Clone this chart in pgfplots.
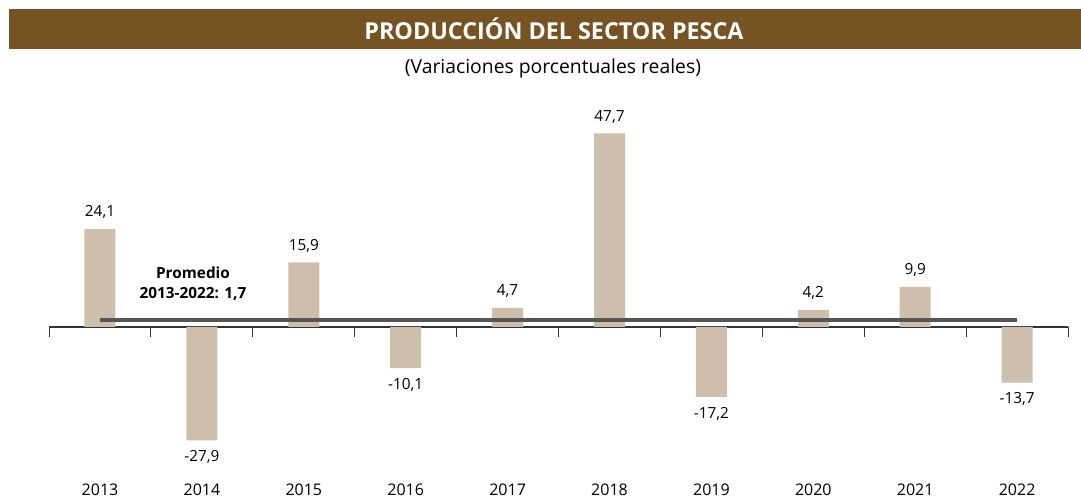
\documentclass[border=0pt]{standalone}
\usepackage{fontspec}
\setmainfont{Open Sans}
\usepackage{pgfplots}
\pgfplotsset{compat=1.18}
\definecolor{titlebar}{HTML}{775222}
\definecolor{barfill}{HTML}{CDBFAB}
\definecolor{avgline}{HTML}{555555}
\newlength{\px}
\setlength{\px}{0.75pt}
\begin{document}
\begin{tikzpicture}
\useasboundingbox (-100\px,327\px) rectangle (981\px,-171\px);
\fill[titlebar] (-91\px,318\px) rectangle (981\px,278\px);
\node[text=white,font=\fontsize{17.5}{20}\selectfont\bfseries] at (454\px,298\px) {PRODUCCIÓN DEL SECTOR PESCA};
\node[font=\fontsize{14.5}{17}\selectfont] at (453\px,259\px) {(Variaciones porcentuales reales)};
\begin{axis}[
  at={(0,0)}, anchor=origin,
  x=101.9\px, y=4.06\px,
  xmin=-0.5, xmax=9.5, ymin=-38, ymax=50,
  clip=false,
  axis x line=bottom, axis y line=none,
  x axis line style={draw=none},
  xtick={0,...,9},
  xticklabels={2013,2014,2015,2016,2017,2018,2019,2020,2021,2022},
  major tick length=0pt,
  xticklabel style={font=\fontsize{12}{14}\selectfont, anchor=north, yshift=1.5pt},
  /pgf/number format/assume math mode=true,
]
\draw[black!80, line width=0.8pt] (axis cs:-0.5,0) -- (axis cs:9.5,0);
\pgfplotsinvokeforeach{-0.5,0.5,1.5,2.5,3.5,4.5,5.5,6.5,7.5,8.5,9.5}{
  \draw[black!80, line width=0.8pt] (axis cs:#1,0) -- (axis cs:#1,-2.5);
}
\addplot[ybar, bar width=31\px, fill=barfill, draw=none,
  nodes near coords,
  every node near coord/.append style={font=\fontsize{11.5}{14}\selectfont, inner ysep=7.5pt},
  /pgf/number format/.cd, fixed, fixed zerofill, precision=1, use comma, 1000 sep={}, assume math mode=true,
] coordinates {
 (0,24.1) (1,-27.9) (2,15.9) (3,-10.1) (4,4.7) (5,47.7) (6,-17.2) (7,4.2) (8,9.9) (9,-13.7)
};
\addplot[avgline, line width=2.4pt, mark=none] coordinates {(0,1.7) (9,1.7)};
\end{axis}
\node[font=\fontsize{11.5}{15}\selectfont\bfseries, align=center] at (93\px,43\px) {Promedio\\2013-2022: 1,7};
\end{tikzpicture}
\end{document}
